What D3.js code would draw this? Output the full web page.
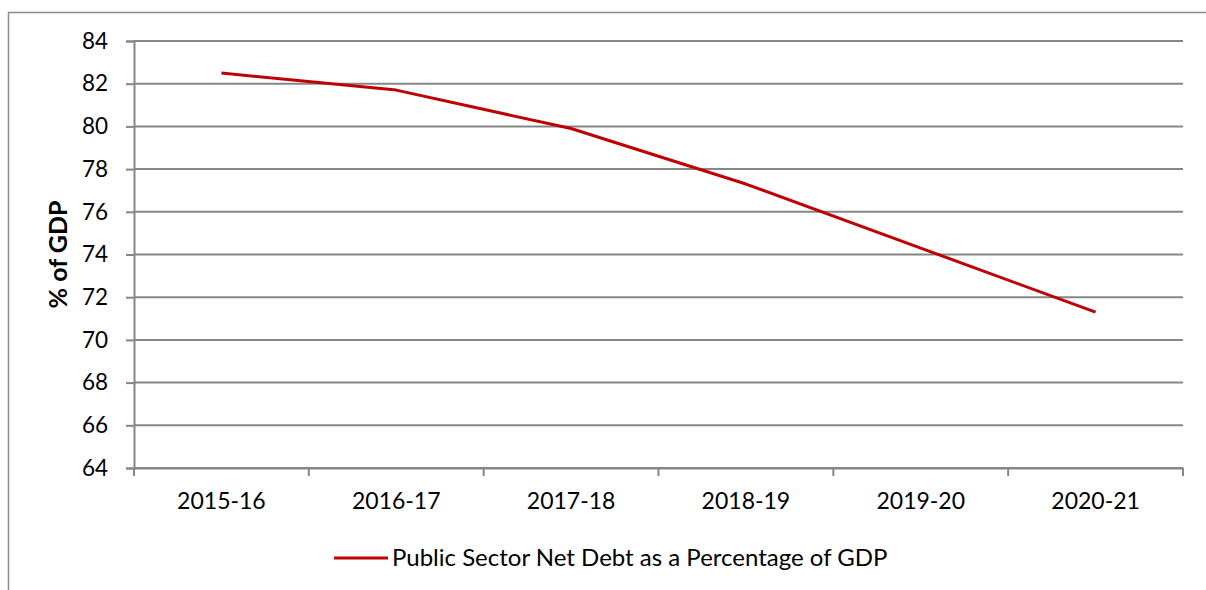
<!DOCTYPE html>
<html>
<head>
<meta charset="utf-8">
<script src="https://cdn.jsdelivr.net/npm/d3@7/dist/d3.min.js"></script>
<style>
  html, body { margin: 0; padding: 0; background: #fff; }
  svg { display: block; font-family: Lato, "Open Sans", sans-serif; }
</style>
</head>
<body>
<svg id="chart" width="1206" height="590"></svg>
<script>
// Public sector net debt forecast, % of GDP
const years = ["2015-16", "2016-17", "2017-18", "2018-19", "2019-20", "2020-21"];
const debtPct = [82.5, 81.7, 79.9, 77.3, 74.3, 71.3];
const yTicks = [64, 66, 68, 70, 72, 74, 76, 78, 80, 82, 84];
const seriesName = "Public Sector Net Debt as a Percentage of GDP";
const yTitle = "% of GDP";

const svg = d3.select("#chart");
const grey = "#868686";
const red = "#C00000";

// outer chart frame (runs off the right and bottom edges)
svg.append("rect")
  .attr("x", 8.5).attr("y", 12.5)
  .attr("width", 1220).attr("height", 600)
  .attr("fill", "#fff").attr("stroke", "#8c8c8c").attr("stroke-width", 1.5);

const plot = { left: 134, right: 1183, top: 41, bottom: 468 };

const x = d3.scaleBand().domain(years).range([plot.left, plot.right]);
const y = d3.scaleLinear().domain([64, 84]).range([plot.bottom, plot.top]);

// horizontal gridlines
svg.append("g").selectAll("line").data(yTicks).join("line")
  .attr("x1", plot.left).attr("x2", plot.right)
  .attr("y1", d => y(d)).attr("y2", d => y(d))
  .attr("stroke", grey).attr("stroke-width", 2);

// y axis
const yAxis = svg.append("g")
  .attr("transform", `translate(${plot.left},0)`)
  .call(d3.axisLeft(y).tickValues(yTicks).tickSize(8).tickPadding(18));
yAxis.select(".domain").attr("stroke", grey).attr("stroke-width", 2);
yAxis.selectAll(".tick line").attr("stroke", grey).attr("stroke-width", 2);
yAxis.selectAll(".tick text")
  .attr("font-size", 22.5).attr("fill", "#000").attr("font-family", "Lato");

// x axis with ticks on category boundaries
const xAxis = svg.append("g")
  .attr("transform", `translate(0,${plot.bottom})`)
  .call(d3.axisBottom(x).tickSize(0).tickPadding(25));
xAxis.select(".domain").attr("stroke", grey).attr("stroke-width", 2);
xAxis.selectAll(".tick text")
  .attr("font-size", 23).attr("fill", "#000").attr("font-family", "Lato");
const bounds = years.map(d => x(d)).concat([x(years[years.length - 1]) + x.bandwidth()]);
xAxis.selectAll("line.bound").data(bounds).join("line")
  .attr("class", "bound")
  .attr("x1", d => d).attr("x2", d => d)
  .attr("y1", 0).attr("y2", 8)
  .attr("stroke", grey).attr("stroke-width", 2);

// y axis title
svg.append("text")
  .attr("transform", `translate(67,${(plot.top + plot.bottom) / 2}) rotate(-90)`)
  .attr("text-anchor", "middle")
  .attr("font-size", 25).attr("font-weight", "bold").attr("font-family", "Lato")
  .text(yTitle);

// data line
const line = d3.line()
  .x((d, i) => x(years[i]) + x.bandwidth() / 2)
  .y(d => y(d));
svg.append("path")
  .datum(debtPct)
  .attr("d", line)
  .attr("fill", "none")
  .attr("stroke", red).attr("stroke-width", 3)
  .attr("stroke-linejoin", "round");

// legend
const lg = svg.append("g").attr("transform", "translate(0,558)");
lg.append("line")
  .attr("x1", 334).attr("x2", 388).attr("y1", 0).attr("y2", 0)
  .attr("stroke", red).attr("stroke-width", 3);
lg.append("text")
  .attr("x", 392).attr("y", 0).attr("dy", "0.35em")
  .attr("font-size", 24).attr("font-family", "Lato")
  .text(seriesName);
</script>
</body>
</html>
